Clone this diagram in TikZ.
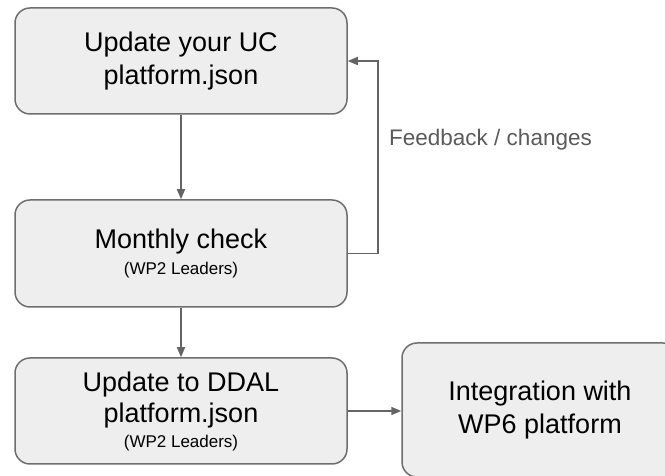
\documentclass[tikz,border=0pt]{standalone}
\usepackage{fontspec}
\setmainfont{Liberation Sans}
\usetikzlibrary{arrows.meta}

\tikzset{
  stepbox/.style={draw=boxLine, fill=boxFill, line width=1.5pt, rounded corners=15pt,
    align=center, inner sep=0pt, text=black,
    font=\fontsize{27}{33}\selectfont},
  flow/.style={draw=lineColor, line width=1.5pt, -{Triangle[length=10pt,width=8pt]}},
  note/.style={font=\fontsize{17}{20}\selectfont}
}

\begin{document}
\begin{tikzpicture}[x=1pt,y=1pt]
\definecolor{boxFill}{RGB}{238,238,238}
\definecolor{boxLine}{RGB}{110,110,110}
\definecolor{lineColor}{RGB}{100,100,100}
\definecolor{labelColor}{RGB}{90,90,90}
\path[use as bounding box] (0,0) rectangle (665,476);
\begin{scope}
\path[clip] (0,0) rectangle (665,476);

% boxes
\node[stepbox, minimum width=332, minimum height=106] (upd) at (181,415)
  {Update your UC\\platform.json};
\node[stepbox, minimum width=332, minimum height=107] (chk) at (181,222.5)
  {Monthly check\\[-7pt]{\fontsize{17}{20}\selectfont (WP2 Leaders)}};
\node[stepbox, minimum width=332, minimum height=106] (ddal) at (181,65)
  {Update to DDAL\\[-2pt]platform.json\\[-8pt]{\fontsize{17}{20}\selectfont (WP2 Leaders)}};
\node[stepbox, minimum width=276, minimum height=134] (wp6) at (540,66)
  {Integration with\\WP6 platform};

% connectors
\draw[flow] (upd) -- (chk);
\draw[flow] (chk) -- (ddal);
\draw[flow] (ddal.east) -- (ddal.east -| wp6.west);
\draw[flow] (chk.east) -- ++(30,0) |- (upd.east);

\node[text=labelColor, anchor=west, inner sep=0pt,
  font=\fontsize{22.5}{27}\selectfont] (fb) at (389,336) {Feedback / changes};
\end{scope}
\end{tikzpicture}
\end{document}
